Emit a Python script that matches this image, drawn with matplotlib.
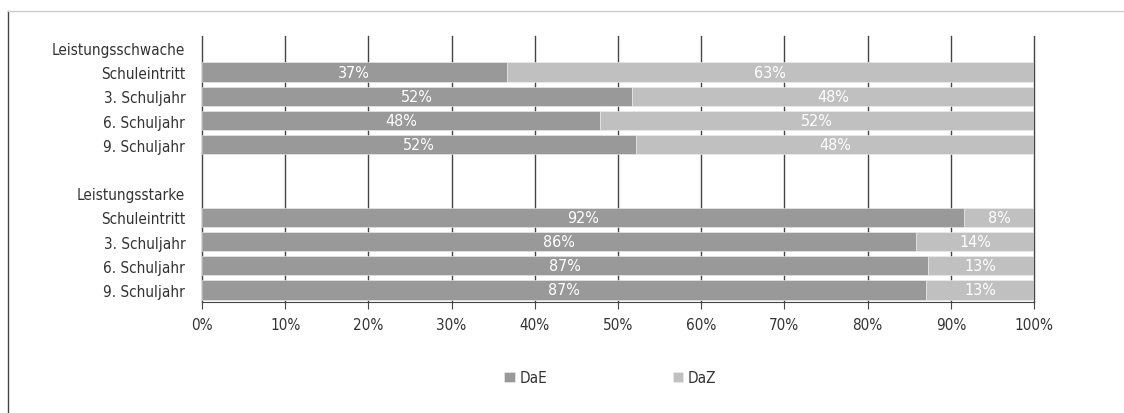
import numpy as np
import matplotlib
matplotlib.use("Agg")
import matplotlib.pyplot as plt
from matplotlib.lines import Line2D

plt.rcParams['font.family'] = ['DejaVu Sans']
plt.rcParams['font.stretch'] = 'condensed'

# Zeilen von oben nach unten (Kopfzeilen ohne Balken)
row_labels = ["Leistungsschwache", "Schuleintritt", "3. Schuljahr", "6. Schuljahr", "9. Schuljahr",
              "",
              "Leistungsstarke", "Schuleintritt", "3. Schuljahr", "6. Schuljahr", "9. Schuljahr"]
bar_rows = [1, 2, 3, 4, 7, 8, 9, 10]
dae = [36.6, 51.7, 47.8, 52.2, 91.6, 85.8, 87.2, 87.0]
daz = [100 - v for v in dae]
ticks = [0, 10, 20, 30, 40, 50, 60, 70, 80, 90, 100]

C_DAE = "#999999"
C_DAZ = "#c0c0c0"

fig = plt.figure(figsize=(11.24, 4.14), dpi=100)
ax = fig.add_axes([0.1797, 0.268, 0.7403, 0.643])

y = np.array(bar_rows)
ax.barh(y, dae, height=0.8, color=C_DAE, edgecolor="#eeeeee", linewidth=0.4, zorder=3, label="DaE")
ax.barh(y, daz, left=dae, height=0.8, color=C_DAZ, edgecolor="#eeeeee", linewidth=0.4, zorder=3, label="DaZ")

for yi, a, b in zip(y, dae, daz):
    ax.text(a / 2, yi, "%d%%" % round(a), color="white", ha="center", va="center", fontsize=11.5, zorder=4)
    ax.text(a + b / 2, yi, "%d%%" % round(b), color="white", ha="center", va="center", fontsize=11.5, zorder=4)

ax.set_xlim(0, 100)
ax.set_ylim(len(row_labels) - 0.5, -0.5)
ax.set_xticks(ticks)
ax.set_xticklabels(["%d%%" % t for t in ticks])
ax.set_yticks(range(len(row_labels)))
ax.set_yticklabels(row_labels)

ax.grid(axis="x", color="#444444", linewidth=1.0, zorder=0)
for gl in ax.get_xgridlines():
    gl.set_clip_on(False)
for s in ["top", "right", "left"]:
    ax.spines[s].set_visible(False)
ax.spines["bottom"].set_color("#444444")
ax.tick_params(axis="y", length=0, pad=12, labelsize=11, labelcolor="#333333")
ax.tick_params(axis="x", length=5, color="#444444", labelsize=11, labelcolor="#333333", pad=6)

fig.legend(loc="center", bbox_to_anchor=(0.543, 0.085), ncol=2, frameon=False,
           fontsize=11, handlelength=0.7, handleheight=0.7, handletextpad=0.3, columnspacing=8.2,
           labelcolor="#333333")

# Rahmen links und oben
fig.add_artist(Line2D([8 / 1124, 8 / 1124], [0, 1 - 12 / 414], color="#444444", linewidth=1))
fig.add_artist(Line2D([8 / 1124, 1], [1 - 12 / 414, 1 - 12 / 414], color="#cccccc", linewidth=1))

fig.savefig("out.png", dpi=100)
